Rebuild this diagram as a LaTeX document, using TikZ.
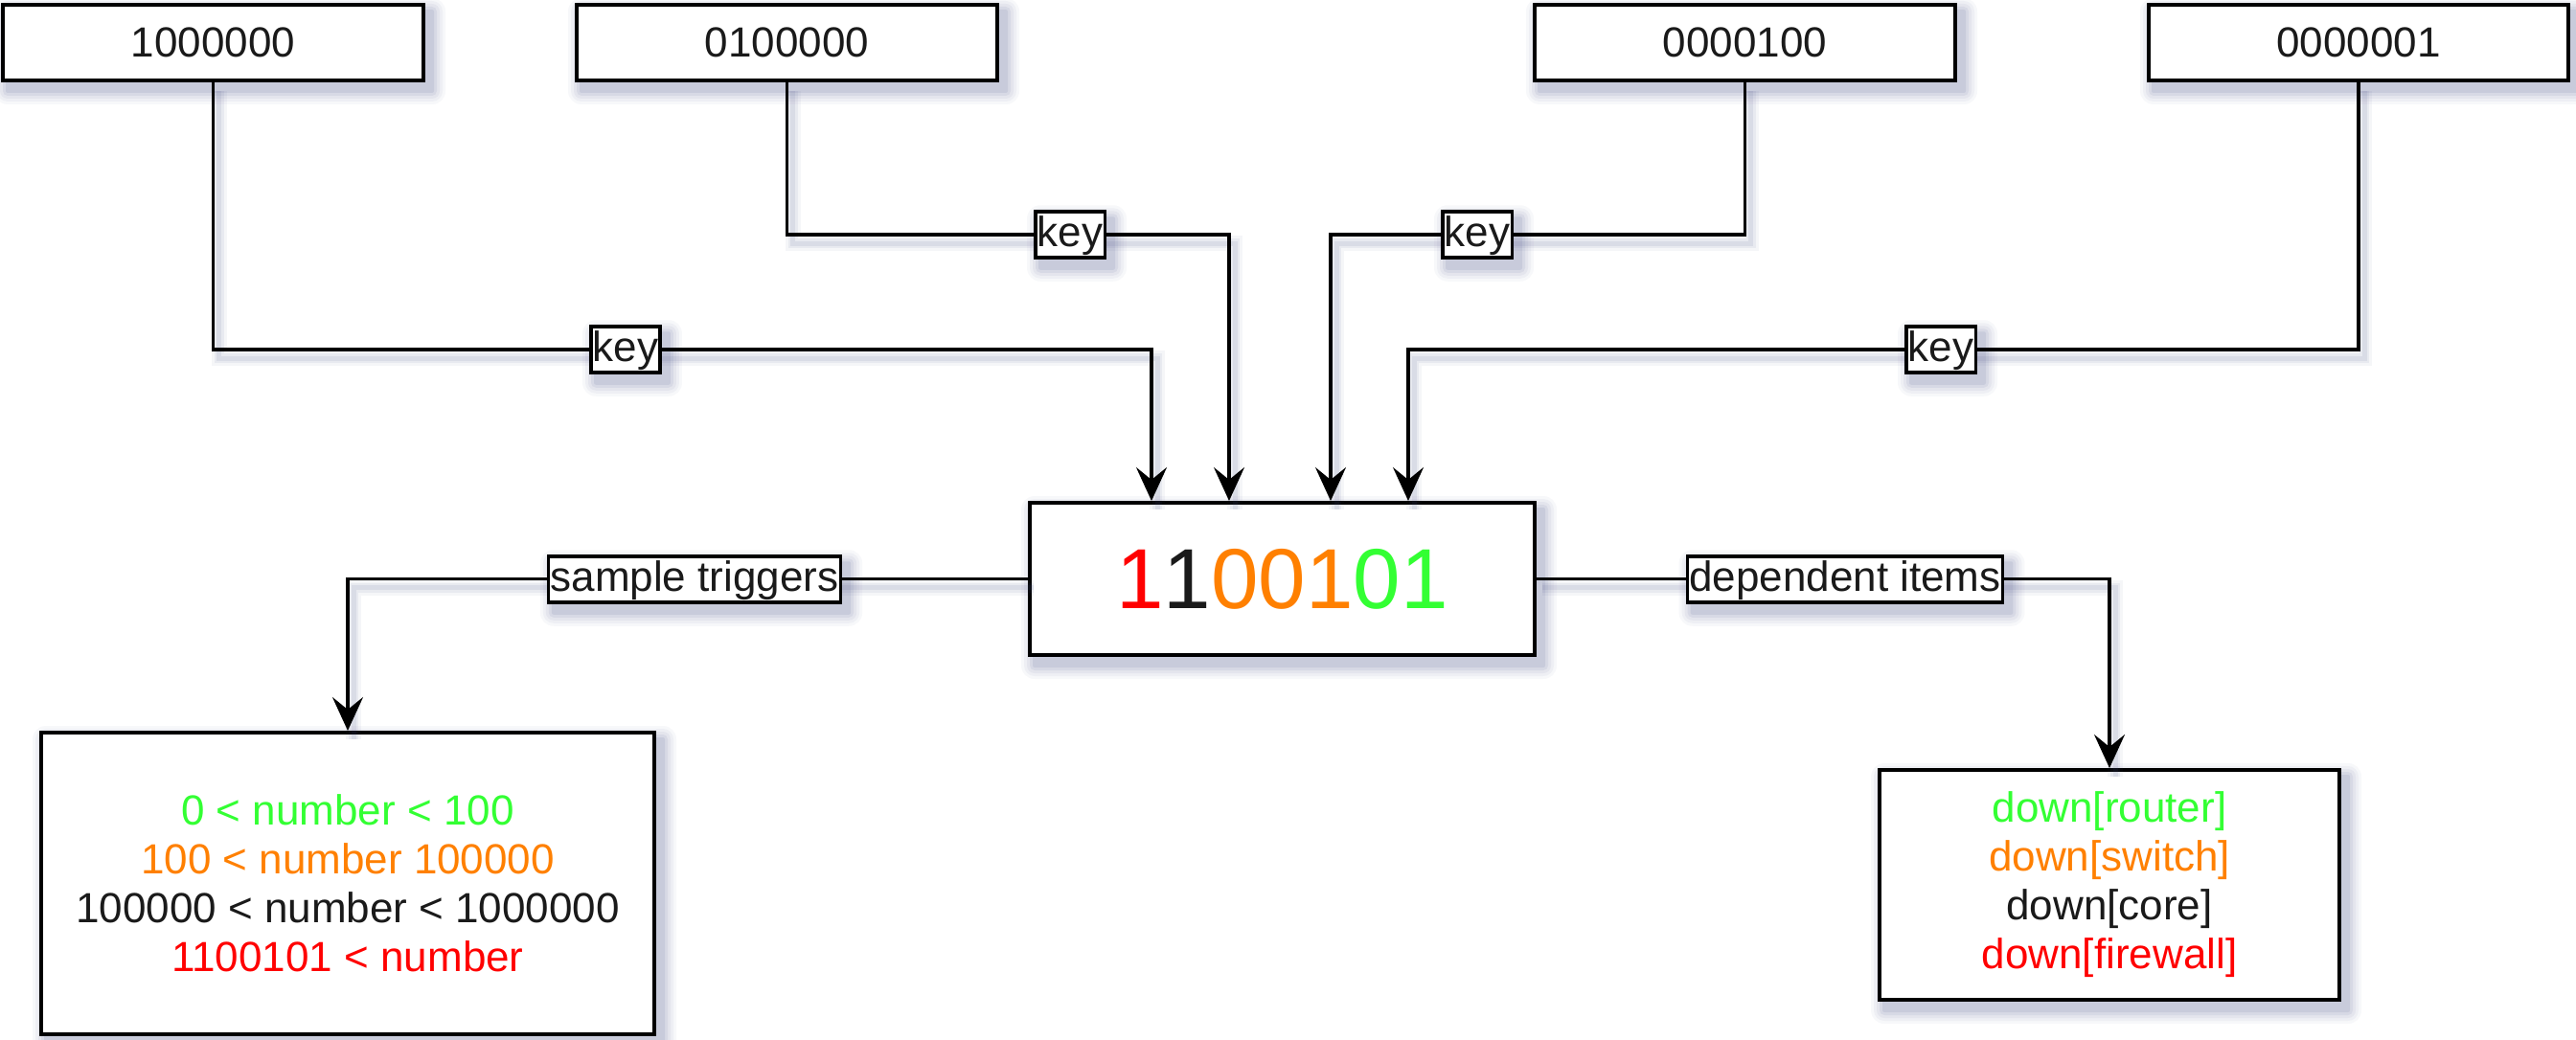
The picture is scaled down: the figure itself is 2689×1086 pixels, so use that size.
\documentclass[tikz,border=0pt]{standalone}
\usepackage{fontspec}
\setmainfont{Liberation Sans}
\usetikzlibrary{arrows.meta,calc,backgrounds}
\definecolor{cred}{HTML}{FF0000}
\definecolor{cgreen}{HTML}{33FF33}
\definecolor{corange}{HTML}{FF8000}
\definecolor{ctext}{HTML}{1A1A1A}
\definecolor{shc}{HTML}{4A5288}
\newcommand\softshadow[1]{%
  \foreach \r/\o in {14/0.04,11/0.05,8/0.06,5/0.08,2/0.10}{%
    \fill[shc, fill opacity=\o, rounded corners=\r pt]
      ($(#1.north west)+(7-\r,9-\r)$) rectangle ($(#1.south east)+(7+\r,9+\r)$);
  }}
\begin{document}
\begin{tikzpicture}[x=1pt,y=-1pt,
  box/.style={draw=black, line width=4pt, fill=white, inner sep=0pt, align=center, text=ctext, font=\fontsize{44}{51}\selectfont},
  lbl/.style={draw=black, line width=3.5pt, fill=white, inner xsep=2pt, inner ysep=0pt, text height=36pt, text depth=12pt, text=ctext, font=\fontsize{44}{51}\selectfont},
  conn/.style={line width=3.5pt, draw=black,
    preaction={arrows=-, draw=shc, draw opacity=0.05, line width=16pt, transform canvas={shift={(6pt,-9pt)}}},
    preaction={arrows=-, draw=shc, draw opacity=0.07, line width=10pt, transform canvas={shift={(6pt,-9pt)}}},
    preaction={arrows=-, draw=shc, draw opacity=0.09, line width=5pt, transform canvas={shift={(6pt,-9pt)}}}},
  arr/.style={conn, -{Stealth[length=35pt,width=32pt,inset=13pt]}},
]
\useasboundingbox (0,0) rectangle (2689,1086);

% bend points
\coordinate (pa) at (1202,365);
\coordinate (pb) at (1283,245);
\coordinate (pc) at (1389,245);
\coordinate (pd) at (1470,365);

% top boxes
\node[box, minimum width=439pt, minimum height=79pt] (A) at (222.5,44.5) {1000000};
\node[box, minimum width=439pt, minimum height=79pt] (B) at (821.5,44.5) {0100000};
\node[box, minimum width=439pt, minimum height=79pt] (C) at (1821.5,44.5) {0000100};
\node[box, minimum width=438pt, minimum height=79pt] (D) at (2462,44.5) {0000001};

% central box
\node[box, minimum width=527pt, minimum height=159pt, font=\fontsize{89}{100}\selectfont] (M) at (1338.5,604.5)
  {\textcolor{cred}{1}\textcolor{ctext}{1}\textcolor{corange}{001}\textcolor{cgreen}{01}};

% bottom boxes
\node[box, minimum width=640pt, minimum height=315pt] (L) at (363,922.5)
  {\textcolor{cgreen}{0 < number < 100}\\
   \textcolor{corange}{100 < number 100000}\\
   \textcolor{ctext}{100000 < number < 1000000}\\
   \textcolor{cred}{1100101 < number}};
\node[box, minimum width=480pt, minimum height=240pt] (R) at (2202,924)
  {\textcolor{cgreen}{down[router]}\\
   \textcolor{corange}{down[switch]}\\
   \textcolor{ctext}{down[core]}\\
   \textcolor{cred}{down[firewall]}};

% connectors
\draw[arr] (A.south) |- (pa) -- (pa |- M.north);
\draw[arr] (B.south) |- (pb) -- (pb |- M.north);
\draw[arr] (C.south) |- (pc) -- (pc |- M.north);
\draw[arr] (D.south) |- (pd) -- (pd |- M.north);
\draw[arr] (M.west) -| (L.north);
\draw[arr] (M.east) -| (R.north);

% labels
\node[lbl] (k1) at (653,365) {key};
\node[lbl] (k2) at (1117,245) {key};
\node[lbl] (k3) at (1542,245) {key};
\node[lbl] (k4) at (2026,365) {key};
\node[lbl] (st) at (725,605) {sample triggers};
\node[lbl] (di) at (1926,605) {dependent items};

% shadows
\begin{scope}[on background layer]
  \fill[white] (0,0) rectangle (2689,1086);
  \softshadow{A}\softshadow{B}\softshadow{C}\softshadow{D}
  \softshadow{M}\softshadow{L}\softshadow{R}
  \softshadow{k1}\softshadow{k2}\softshadow{k3}\softshadow{k4}
  \softshadow{st}\softshadow{di}
\end{scope}
\end{tikzpicture}
\end{document}
